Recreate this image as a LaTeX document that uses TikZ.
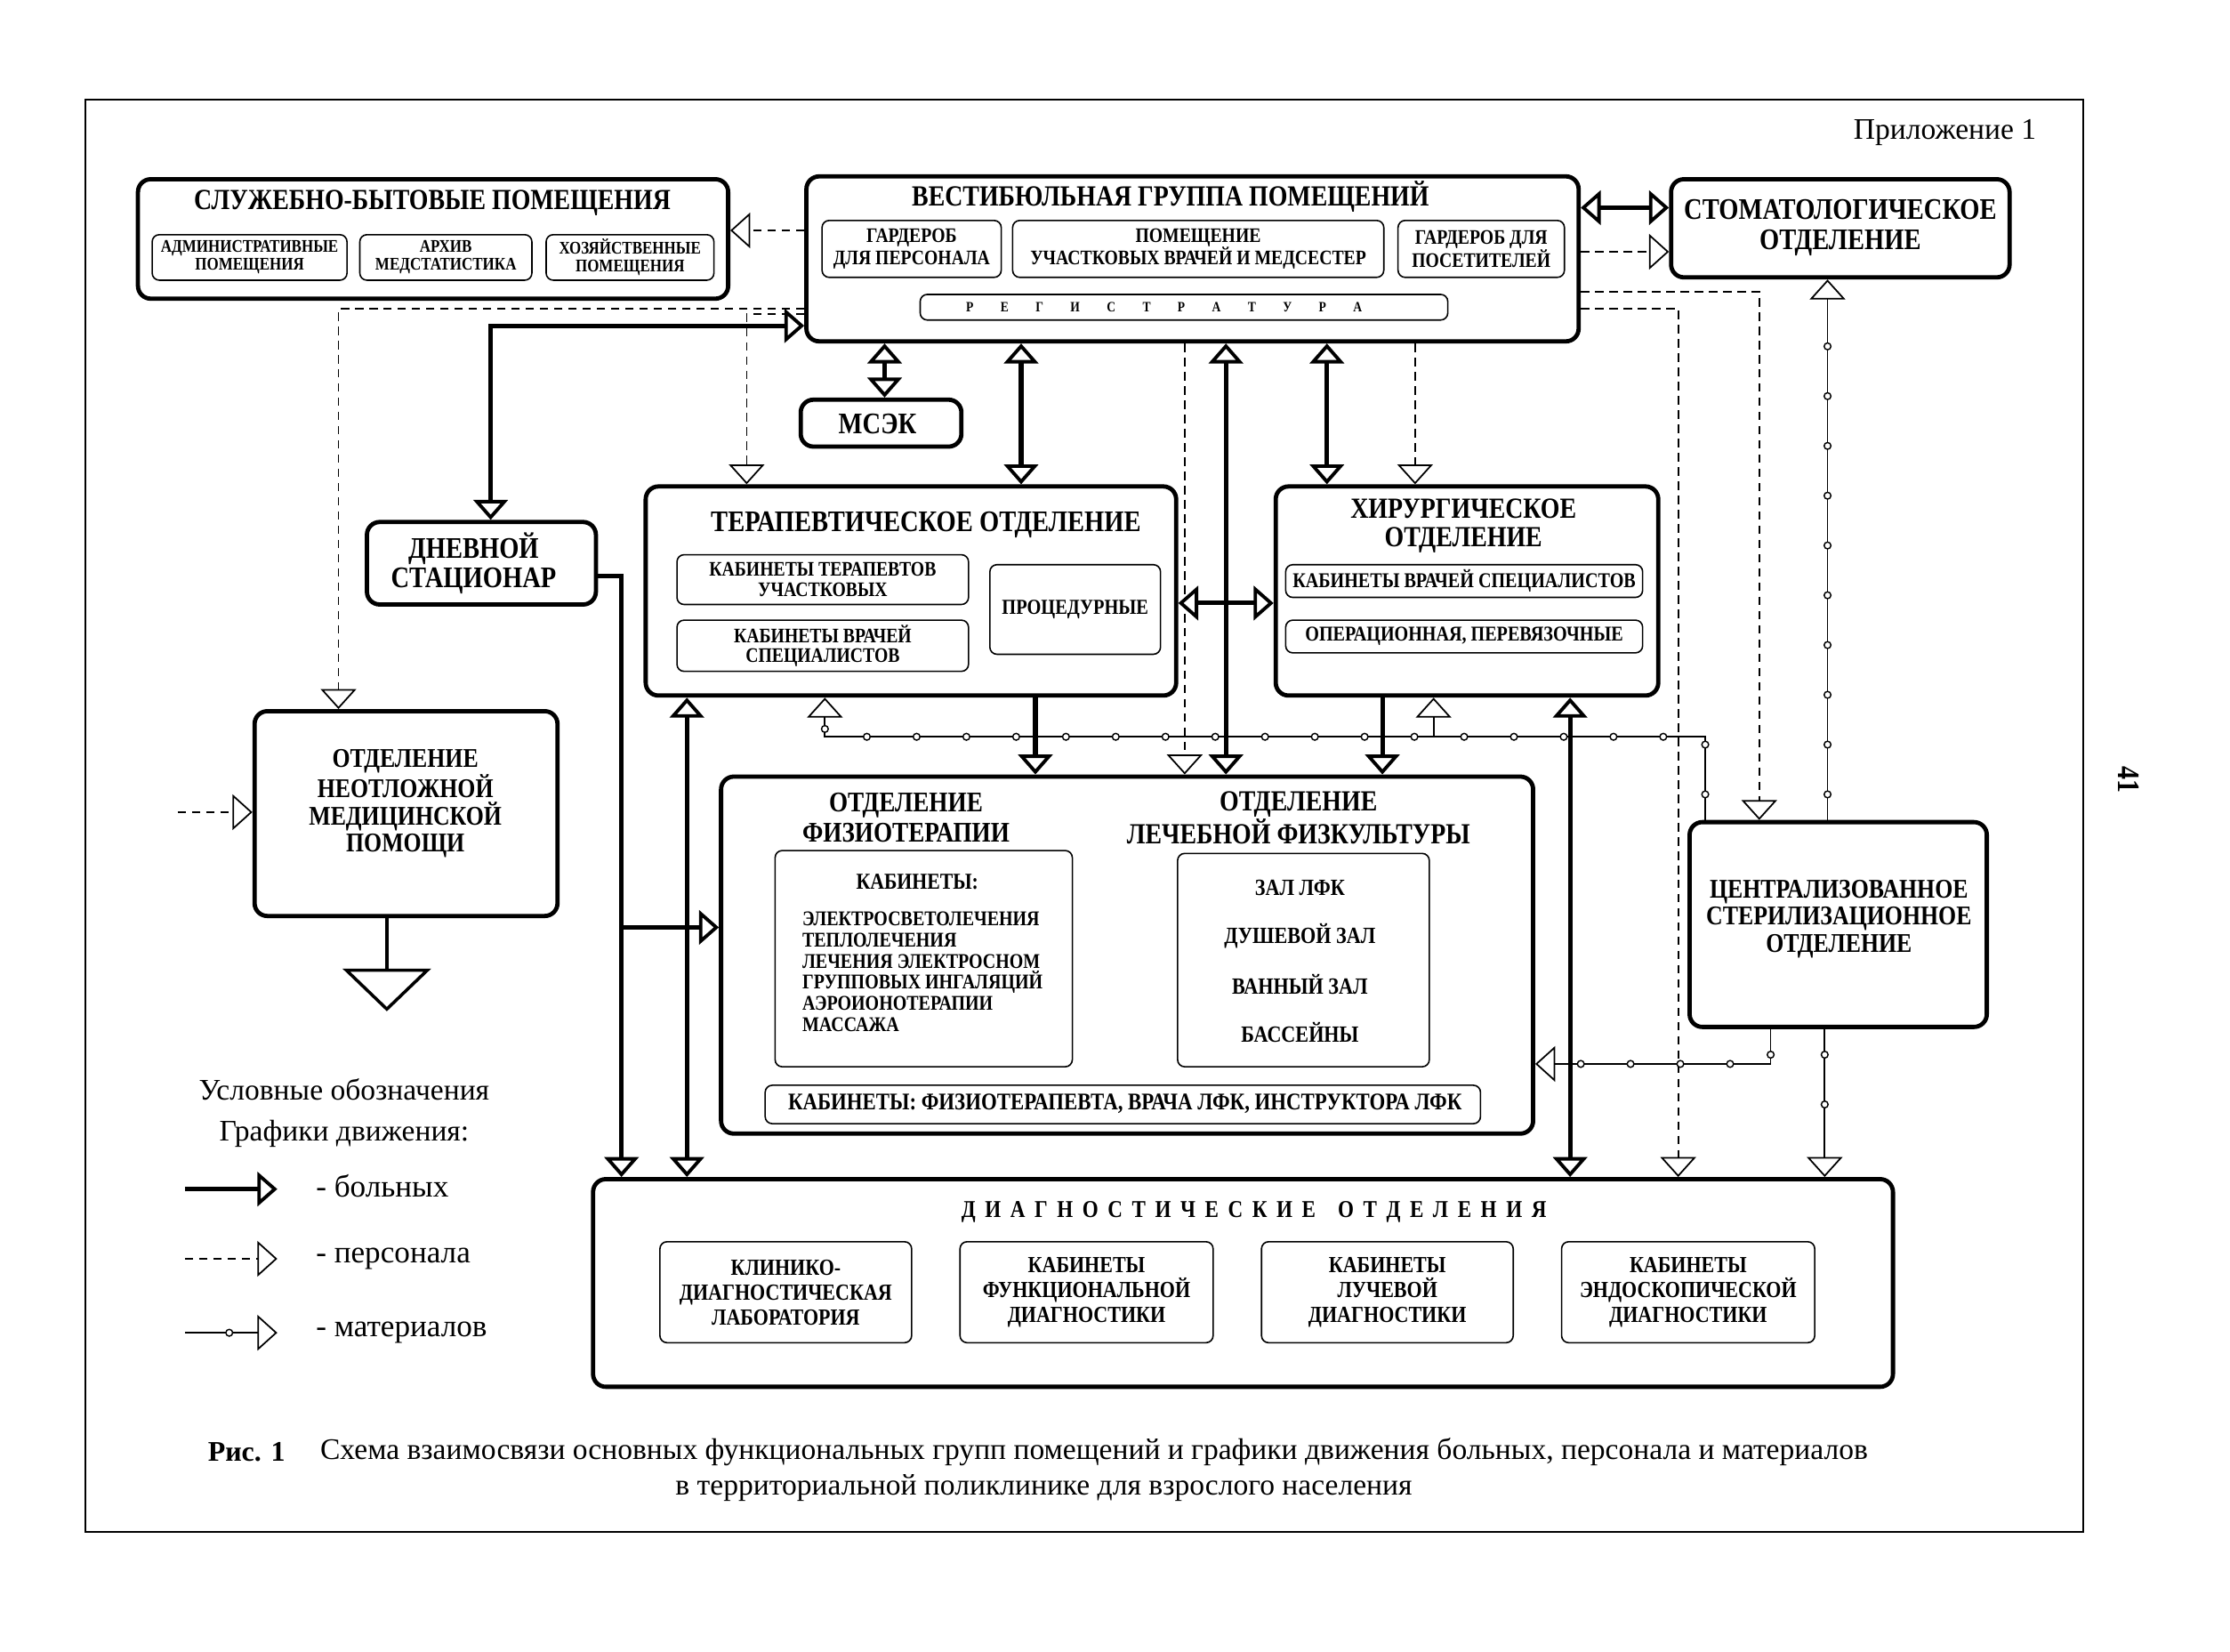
\documentclass[tikz,border=0pt]{standalone}
\usepackage{fontspec}
\setmainfont{Liberation Serif}
\newfontfamily\cbf[FakeStretch=0.85]{Liberation Serif}
\usetikzlibrary{arrows.meta,decorations.markings}
\newcommand\lspace[2]{\def\lspamt{#1}\lsploop#2\relax}
\def\lsploop#1{\ifx#1\relax\else#1\kern\lspamt\expandafter\lsploop\fi}
\newcommand\boxat[6]{\node[#1, minimum width={(#5)-(#3)}, minimum height={(#6)-(#4)}] (#2) at ({((#3)+(#5))/2},{((#4)+(#6))/2}) {};}
\tikzset{
  tp/.tip={Triangle[length=14pt, width=24pt, fill=white, line width=2.4pt]},
  tl/.tip={Triangle[length=14pt, width=25pt, fill=white, line width=1.1pt]},
  T/.style 2 args={font=\cbf\bfseries\fontsize{#1}{#2}\selectfont, align=center, inner sep=0pt},
  R/.style 2 args={font=\normalfont\fontsize{#1}{#2}\selectfont, align=center, inner sep=0pt},
  bigb/.style={draw, line width=3pt, rounded corners=9pt},
  smb/.style={draw, line width=1pt, rounded corners=5pt},
  framebox/.style={draw, line width=1.3pt},
  pat/.style={line width=3.2pt, -tp},
  patb/.style={line width=3.2pt, tp-tp},
  pers/.style={line width=1.1pt, dash pattern=on 6pt off 4pt, -tl},
  mat/.style={line width=1.1pt, -tl, postaction={decorate}, decoration={markings, mark=between positions 18pt and -20pt step 35pt with {\draw[line width=0.9pt, fill=white, solid] (0,0) circle (2.4pt);}}},
  matleg/.style={line width=1.1pt, -tl, postaction={decorate}, decoration={markings, mark=at position 0.48 with {\draw[line width=0.9pt, fill=white, solid] (0,0) circle (2.4pt);}}},
}
\begin{document}
\begin{tikzpicture}[x=1pt,y=-1pt]
\useasboundingbox (0,0) rectangle (1568,1161);
\fill[white] (0,0) rectangle (1568,1161);
\boxat{framebox}{frame}{60}{70}{1465}{1077}
\node[R={21}{23}, anchor=east] (pril) at (1432,93) {Приложение 1};
\node[T={22}{24}, rotate=-90] (pnum) at (1497,548) {41};

% служебно-бытовые
\boxat{bigb}{sluzh}{97}{126}{512}{210}
\node[T={20.5}{23}] (sluzhT) at (304,143) {СЛУЖЕБНО-БЫТОВЫЕ ПОМЕЩЕНИЯ};
\boxat{smb}{s1}{107}{165}{244}{197}
\node[T={12.5}{12.5}] (s1T) at (s1) {АДМИНИСТРАТИВНЫЕ\\ПОМЕЩЕНИЯ};
\boxat{smb}{s2}{253}{165}{374}{197}
\node[T={12.5}{12.5}] (s2T) at (s2) {АРХИВ\\МЕДСТАТИСТИКА};
\boxat{smb}{s3}{384}{165}{502}{197}
\node[T={12.5}{12.5}] (s3T) at (s3) {ХОЗЯЙСТВЕННЫЕ\\ПОМЕЩЕНИЯ};

% вестибюльная
\boxat{bigb}{vest}{567}{124}{1110}{240}
\node[T={20.5}{22}] (vestT) at (823,138) {ВЕСТИБЮЛЬНАЯ ГРУППА ПОМЕЩЕНИЙ};
\boxat{smb}{v1}{578}{155}{704}{195}
\node[T={14.5}{16}] (v1T) at (v1) {ГАРДЕРОБ\\ДЛЯ ПЕРСОНАЛА};
\boxat{smb}{v2}{712}{155}{973}{195}
\node[T={14.5}{16}] (v2T) at (v2) {ПОМЕЩЕНИЕ\\УЧАСТКОВЫХ ВРАЧЕЙ И МЕДСЕСТЕР};
\boxat{smb}{v3}{983}{155}{1100}{195}
\node[T={14.5}{16}] (v3T) at (v3) {ГАРДЕРОБ ДЛЯ\\ПОСЕТИТЕЛЕЙ};
\boxat{smb}{reg}{647}{207}{1018}{225}
\node[T={10}{11}] (regT) at (828,216) {\lspace{19pt}{РЕГИСТРАТУРА}};

% стоматологическое
\boxat{bigb}{stom}{1175}{126}{1413}{195}
\node[T={21}{21}] (stomT) at (1294,160) {СТОМАТОЛОГИЧЕСКОЕ\\ОТДЕЛЕНИЕ};

% мсэк
\boxat{bigb}{msek}{563}{281}{676}{314}
\node[T={21}{23}] (msekT) at (617,298) {МСЭК};

% дневной стационар
\boxat{bigb}{dnev}{258}{367}{419}{425}
\node[T={21}{21}] (dnevT) at (333,396) {ДНЕВНОЙ\\СТАЦИОНАР};

% терапевтическое
\boxat{bigb}{terap}{454}{342}{827}{489}
\node[T={21}{21}] (terapT) at (651,369) {ТЕРАПЕВТИЧЕСКОЕ ОТДЕЛЕНИЕ};
\boxat{smb}{t1}{476}{390}{681}{425}
\node[T={14.5}{14}] (t1T) at (t1) {КАБИНЕТЫ ТЕРАПЕВТОВ\\УЧАСТКОВЫХ};
\boxat{smb}{t2}{476}{436}{681}{472}
\node[T={14.5}{14}] (t2T) at (t2) {КАБИНЕТЫ ВРАЧЕЙ\\СПЕЦИАЛИСТОВ};
\boxat{smb}{t3}{696}{397}{816}{460}
\node[T={15}{14}] (t3T) at (t3) {ПРОЦЕДУРНЫЕ};

% хирургическое
\boxat{bigb}{hir}{897}{342}{1166}{489}
\node[T={20.5}{20}] (hirT) at (1029,370) {ХИРУРГИЧЕСКОЕ\\ОТДЕЛЕНИЕ};
\boxat{smb}{h1}{904}{397}{1155}{420}
\node[T={14.8}{14}] (h1T) at (h1) {КАБИНЕТЫ ВРАЧЕЙ СПЕЦИАЛИСТОВ};
\boxat{smb}{h2}{904}{436}{1155}{459}
\node[T={14.8}{14}] (h2T) at (h2) {ОПЕРАЦИОННАЯ, ПЕРЕВЯЗОЧНЫЕ};

% неотложная
\boxat{bigb}{neotl}{179}{500}{392}{644}
\node[T={19}{19}] (neotlT) at (285,565) {ОТДЕЛЕНИЕ\\НЕОТЛОЖНОЙ\\МЕДИЦИНСКОЙ\\ПОМОЩИ};

% физиотерапия / лфк
\boxat{bigb}{fiz}{507}{546}{1078}{797}
\node[T={20}{21}] (fizT) at (637,575) {ОТДЕЛЕНИЕ\\ФИЗИОТЕРАПИИ};
\node[T={20.5}{21}] (lfkT) at (913,575) {ОТДЕЛЕНИЕ\\ЛЕЧЕБНОЙ ФИЗКУЛЬТУРЫ};
\boxat{smb}{f1}{545}{598}{754}{750}
\node[T={16}{15}] (f1H) at (645,620) {КАБИНЕТЫ:};
\node[T={14.7}{14.8}, align=left, anchor=north west] (f1L) at (564,641) {ЭЛЕКТРОСВЕТОЛЕЧЕНИЯ\\ТЕПЛОЛЕЧЕНИЯ\\ЛЕЧЕНИЯ ЭЛЕКТРОСНОМ\\ГРУППОВЫХ ИНГАЛЯЦИЙ\\АЭРОИОНОТЕРАПИИ\\МАССАЖА};
\boxat{smb}{f2}{828}{600}{1005}{750}
\node[T={16.3}{15}] (f2a) at (914,624) {ЗАЛ ЛФК};
\node[T={16.3}{15}] (f2b) at (914,658) {ДУШЕВОЙ ЗАЛ};
\node[T={16.3}{15}] (f2c) at (914,692) {ВАННЫЙ ЗАЛ};
\node[T={16.3}{15}] (f2d) at (914,726) {БАССЕЙНЫ};
\boxat{smb}{f3}{538}{763}{1041}{790}
\node[T={16.8}{15}] (f3T) at (791,776) {КАБИНЕТЫ: ФИЗИОТЕРАПЕВТА, ВРАЧА ЛФК, ИНСТРУКТОРА ЛФК};

% цсо
\boxat{bigb}{cso}{1188}{578}{1397}{722}
\node[T={19}{19}] (csoT) at (1293,646) {ЦЕНТРАЛИЗОВАННОЕ\\СТЕРИЛИЗАЦИОННОЕ\\ОТДЕЛЕНИЕ};

% диагностические
\boxat{bigb}{diag}{417}{829}{1331}{975}
\node[T={17}{19}] (diagT) at (885,852) {\lspace{6.6pt}{ДИАГНОСТИЧЕСКИЕ}\hspace{9pt}\lspace{6.6pt}{ОТДЕЛЕНИЯ}};
\boxat{smb}{d1}{464}{873}{641}{944}
\node[T={16.2}{17.5}] (d1T) at (d1) {КЛИНИКО-\\ДИАГНОСТИЧЕСКАЯ\\ЛАБОРАТОРИЯ};
\boxat{smb}{d2}{675}{873}{853}{944}
\node[T={16.2}{17.5}] (d2T) at (d2) {КАБИНЕТЫ\\ФУНКЦИОНАЛЬНОЙ\\ДИАГНОСТИКИ};
\boxat{smb}{d3}{887}{873}{1064}{944}
\node[T={16.2}{17.5}] (d3T) at (d3) {КАБИНЕТЫ\\ЛУЧЕВОЙ\\ДИАГНОСТИКИ};
\boxat{smb}{d4}{1098}{873}{1276}{944}
\node[T={16.2}{17.5}] (d4T) at (d4) {КАБИНЕТЫ\\ЭНДОСКОПИЧЕСКОЙ\\ДИАГНОСТИКИ};

% ---------- connectors ----------
\draw[pers] (vest.west |- 0,162) -- (sluzh.east |- 0,162);
\draw[patb] (vest.east |- 0,146) -- (stom.west |- 0,146);
\draw[pers] (vest.east |- 0,177) -- (stom.west |- 0,177);
\draw[pers] (vest.west |- 0,217) -| (neotl.north -| 238,0);
\draw[pers] (vest.west |- 0,221) -| (terap.north -| 525,0);
\draw[patb] (vest.west |- 0,229) -| (dnev.north -| 345,0);
\draw[patb] (vest.south -| 622,0) -- (msek.north -| 622,0);
\draw[patb] (vest.south -| 718,0) -- (terap.north -| 718,0);
\draw[pers] (vest.south -| 833,0) -- (fiz.north -| 833,0);
\draw[patb] (vest.south -| 862,0) -- (fiz.north -| 862,0);
\draw[patb] (vest.south -| 933,0) -- (hir.north -| 933,0);
\draw[pers] (vest.south -| 995,0) -- (hir.north -| 995,0);
\draw[pers] (vest.east |- 0,205) -| (cso.north -| 1237,0);
\draw[pers] (vest.east |- 0,217) -| (diag.north -| 1180,0);
% materials
\coordinate (m1) at (580,518);
\coordinate (m2) at (1008,518);
\draw[mat] (cso.north -| 1285,0) -- (stom.south -| 1285,0);
\draw[mat] (cso.south -| 1283,0) -- (diag.north -| 1283,0);
\draw[mat] (cso.south -| 1245,0) |- (fiz.east |- 0,748);
\draw[mat] (cso.north -| 1199,0) |- (m1) -- (terap.south -| m1);
\draw[line width=1.1pt, -tl] (m2) -- (hir.south -| m2);
% patients between departments
\draw[pat] (terap.south -| 728,0) -- (fiz.north -| 728,0);
\draw[pat] (hir.south -| 972,0) -- (fiz.north -| 972,0);
\draw[patb] (terap.east |- 0,424) -- (hir.west |- 0,424);
\draw[patb] (terap.south -| 483,0) -- (diag.north -| 483,0);
\draw[patb] (hir.south -| 1104,0) -- (diag.north -| 1104,0);
\coordinate (dj) at (437,652);
\draw[pat] (dnev.east |- 0,405) -| (diag.north -| 437,0);
\draw[pat] (dj) -- (fiz.west |- dj);
% emergency
\coordinate (emin) at (125,571);
\draw[pers] (emin) -- (neotl.west |- emin);
\coordinate (emout) at (272,711);
\draw[line width=2.4pt, -{Triangle[length=30pt, width=62pt, fill=white, line width=2.2pt]}] (neotl.south -| emout) -- (emout);

% ---------- legend ----------
\node[R={21}{23}] (leg1) at (242,766) {Условные обозначения};
\node[R={21}{23}] (leg2) at (242,797) {Графики движения:};
\coordinate (lb1) at (130,836); \coordinate (lb2) at (195,836);
\coordinate (lp1) at (130,885); \coordinate (lp2) at (195,885);
\coordinate (lm1) at (130,937); \coordinate (lm2) at (195,937);
\draw[pat] (lb1) -- (lb2);
\draw[pers] (lp1) -- (lp2);
\draw[matleg] (lm1) -- (lm2);
\node[R={22}{22}, anchor=west] (lbT) at (222,834) {- больных};
\node[R={22}{22}, anchor=west] (lpT) at (222,885) {- персонала};
\node[R={22}{22}, anchor=west] (lmT) at (222,937) {- материалов};

% ---------- caption ----------
\node[font=\normalfont\bfseries\fontsize{20}{22}\selectfont, anchor=west, inner sep=0pt] (ris) at (146,1021) {Рис. 1};
\node[R={21}{22}, anchor=west] (cap1) at (225,1021) {Схема взаимосвязи основных функциональных групп помещений и графики движения больных, персонала и материалов};
\node[R={21}{22}] (cap2) at (734,1046) {в территориальной поликлинике для взрослого населения};
\end{tikzpicture}
\end{document}
